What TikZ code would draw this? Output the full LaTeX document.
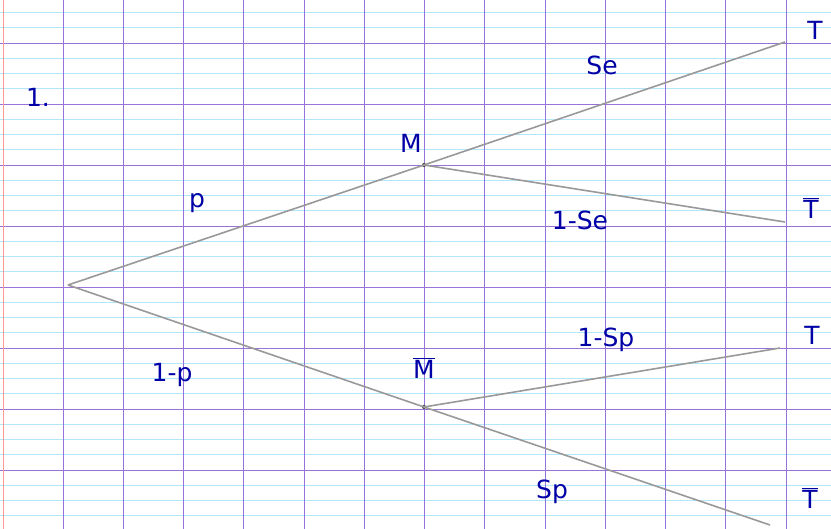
\documentclass[tikz,border=0pt]{standalone}
\usepackage{fontspec}
\setmainfont{DejaVu Sans}
\begin{document}
\begin{tikzpicture}[x=1pt,y=-1pt,
  branch/.style={draw=gray!80,line width=1.6pt},
  ink/.style={text=blue!65!black,font=\fontsize{25}{25}\selectfont},
  dot/.style={circle,fill=black!75,inner sep=0pt,minimum size=4pt}]
\useasboundingbox (0,0) rectangle (831,529);
\fill[white] (0,0) rectangle (831,529);
% minor horizontal lines
\foreach \k in {-2,...,38}{
  \draw[cyan!30,line width=0.7pt] (0,{43+15.25*\k}) -- (831,{43+15.25*\k});
}
% major horizontal lines
\foreach \k in {0,...,7}{
  \draw[blue!45!violet!55,line width=0.9pt] (0,{43+61*\k}) -- (831,{43+61*\k});
}
% vertical lines
\foreach \k in {0,...,12}{
  \draw[blue!50!violet!55,line width=0.9pt] ({63+60.25*\k},0) -- ({63+60.25*\k},529);
}
\draw[red!40,line width=0.9pt] (3,0) -- (3,529);
% nodes
\coordinate (R) at (68,285);
\node[dot] (M) at (424,165) {};
\node[dot] (Mb) at (424,407) {};
\coordinate (T1) at (785,42);
\coordinate (T2) at (785,222);
\coordinate (T3) at (780,348);
\coordinate (T4) at (770,525);
% branches
\draw[branch] (R) -- (M.center);
\draw[branch] (R) -- (Mb.center);
\draw[branch] (M.center) -- (T1);
\draw[branch] (M.center) -- (T2);
\draw[branch] (Mb.center) -- (T3);
\draw[branch] (Mb.center) -- (T4);
% labels
\node[ink] (n1) at (38,97) {1.};
\node[ink] (lM) at (411,143) {M};
\node[ink] (lMb) at (424,368) {$\overline{\mathrm{M}}$};
\node[ink] (lp) at (197,203) {p};
\node[ink] (l1p) at (172,375) {1-p};
\node[ink] (lSe) at (602,65) {Se};
\node[ink] (l1Se) at (580,220) {1-Se};
\node[ink] (l1Sp) at (606,340) {1-Sp};
\node[ink] (lSp) at (552,492) {Sp};
\node[ink] (lT1) at (815,30) {T};
\node[ink] (lT2) at (811,208) {$\overline{\mathrm{T}}$};
\node[ink] (lT3) at (812,335) {T};
\node[ink] (lT4) at (810,498) {$\overline{\mathrm{T}}$};
\end{tikzpicture}
\end{document}
